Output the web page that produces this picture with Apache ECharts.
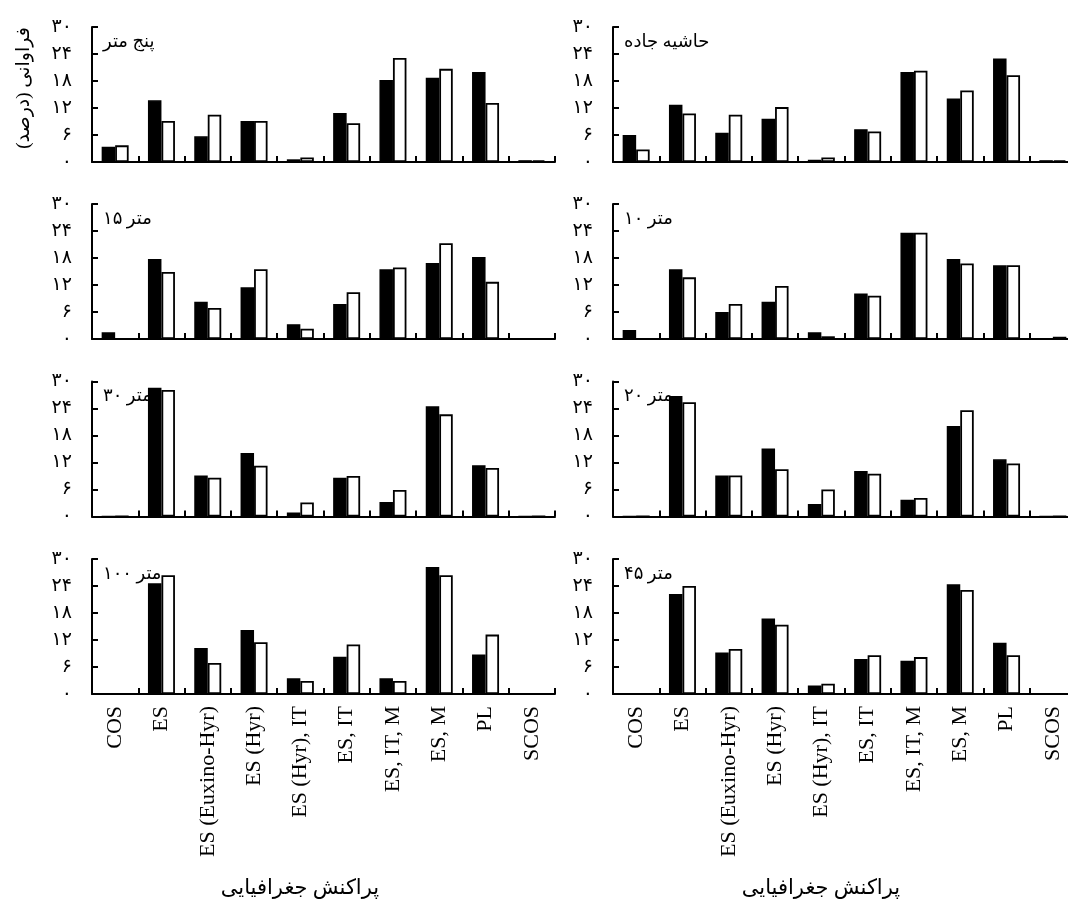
<!DOCTYPE html>
<html>
<head>
<meta charset="utf-8">
<script src="https://cdn.jsdelivr.net/npm/echarts@6/dist/echarts.min.js"></script>
<style>
html,body{margin:0;padding:0;background:#fff;}
#main{width:1068px;height:909px;}
</style>
</head>
<body>
<div id="main"></div>
<script>
// ---------- DATA ----------
const categories = ['COS','ES','ES (Euxino-Hyr)','ES (Hyr)','ES (Hyr), IT','ES, IT','ES, IT, M','ES, M','PL','SCOS'];
const yTickValues = [0, 6, 12, 18, 24, 30];
const yTickLabels = ['۰','۶','۱۲','۱۸','۲۴','۳۰'];
const panelTitles = ['پنج متر','حاشیه جاده','۱۵ متر','۱۰ متر','۳۰ متر','۲۰ متر','۱۰۰ متر','۴۵ متر'];
const yAxisTitle = 'فراوانی (درصد)';
const xAxisTitle = 'پراکنش جغرافیایی';

const m5Black   = [3.4,13.7,5.7,9.1,0.6,10.9,18.2,18.7,20.0,0.4];
const m5White   = [3.7,9.1,10.5,9.1,1.0,8.6,23.1,20.7,13.1,0.4];
const roadBlack = [6.0,12.7,6.5,9.6,0.5,7.3,20.0,14.1,23.0,0.4];
const roadWhite = [2.8,10.8,10.5,12.2,1.0,6.8,20.3,15.9,19.3,0.4];
const m15Black  = [1.5,17.8,8.3,11.5,3.3,7.8,15.5,16.9,18.2,0];
const m15White  = [0,14.9,6.9,15.5,2.3,10.4,15.9,21.3,12.7,0];
const m10Black  = [2.0,15.5,6.0,8.3,1.5,10.1,23.6,17.8,16.4,0];
const m10White  = [0,13.7,7.8,11.8,0.6,9.6,23.6,16.8,16.4,0.5];
const m30Black  = [0,28.6,9.1,14.1,0.9,8.6,3.2,24.5,11.4,0];
const m30White  = [0,28.1,8.6,11.3,3.1,9.0,5.9,22.7,10.8,0];
const m20Black  = [0,26.8,9.1,15.1,2.8,10.1,3.7,20.1,12.7,0];
const m20White  = [0,25.4,9.1,10.5,6.0,9.5,4.1,23.6,11.8,0];
const m100Black = [0,24.6,10.2,14.2,3.5,8.3,3.5,28.2,8.8,0];
const m100White = [0,26.4,6.9,11.5,2.9,11.0,2.9,26.4,13.2,0];
const m45Black  = [0,22.2,9.2,16.8,1.9,7.8,7.4,24.4,11.4,0];
const m45White  = [0,24.0,10.0,15.4,2.3,8.6,8.2,23.1,8.6,0];

// ---------- LAYOUT ----------
const panelData = [
  [m5Black, m5White], [roadBlack, roadWhite],
  [m15Black, m15White], [m10Black, m10White],
  [m30Black, m30White], [m20Black, m20White],
  [m100Black, m100White], [m45Black, m45White]
];
const colLeft = [92, 613];
const rowTop = [27, 204, 381.5, 559];
const gridW = 463, gridH = 135;
const faFont = "'Liberation Serif','DejaVu Sans',serif";

const grids = [], xAxes = [], yAxes = [], series = [], titles = [];
panelData.forEach((pair, i) => {
  const col = i % 2, row = Math.floor(i / 2);
  const isBottom = row === 3;
  grids.push({left: colLeft[col], top: rowTop[row], width: gridW, height: gridH, containLabel: false, outerBoundsMode: 'none'});
  xAxes.push({
    type: 'category', gridIndex: i, data: categories,
    axisLine: {show: true, lineStyle: {color: '#000', width: 2}},
    axisTick: {show: true, inside: true, length: 6, lineStyle: {color: '#000', width: 2}},
    axisLabel: {show: isBottom, rotate: 90, interval: 0, margin: 12, color: '#000',
      fontFamily: "'Liberation Serif','Times New Roman',serif", fontSize: 22},
    splitLine: {show: false}
  });
  yAxes.push({
    type: 'value', gridIndex: i, min: 0, max: 30, interval: 6,
    axisLine: {show: true, lineStyle: {color: '#000', width: 2}},
    axisTick: {show: true, inside: true, length: 6, lineStyle: {color: '#000', width: 2}},
    axisLabel: {show: true, margin: 20, color: '#000', fontFamily: faFont, fontSize: 19,
      formatter: v => yTickLabels[yTickValues.indexOf(v)] || ''},
    splitLine: {show: false}
  });
  series.push({
    type: 'bar', xAxisIndex: i, yAxisIndex: i, data: pair[0], barWidth: 13.5, barGap: '0%',
    itemStyle: {color: '#000', borderColor: '#000', borderWidth: 1.5}, silent: true
  });
  series.push({
    type: 'bar', xAxisIndex: i, yAxisIndex: i, data: pair[1], barWidth: 13.5, barGap: '0%',
    itemStyle: {color: '#fff', borderColor: '#000', borderWidth: 1.8}, silent: true
  });
  titles.push({
    text: panelTitles[i], left: colLeft[col] + 6, top: rowTop[row] + 1,
    textStyle: {color: '#000', fontFamily: faFont, fontSize: 18, fontWeight: 'normal'}
  });
});

const graphics = [
  {type: 'text', x: 24, y: 88, rotation: Math.PI / 2,
   style: {text: yAxisTitle, align: 'center', verticalAlign: 'middle', fill: '#000', font: "19px " + faFont}},
  {type: 'text', x: 300, y: 888,
   style: {text: xAxisTitle, align: 'center', verticalAlign: 'middle', fill: '#000', font: "21px " + faFont}},
  {type: 'text', x: 821, y: 888,
   style: {text: xAxisTitle, align: 'center', verticalAlign: 'middle', fill: '#000', font: "21px " + faFont}}
];

const chart = echarts.init(document.getElementById('main'), null, {renderer: 'canvas'});
chart.setOption({
  animation: false,
  backgroundColor: '#fff',
  title: titles,
  grid: grids,
  xAxis: xAxes,
  yAxis: yAxes,
  series: series,
  graphic: graphics
});
</script>
</body>
</html>
